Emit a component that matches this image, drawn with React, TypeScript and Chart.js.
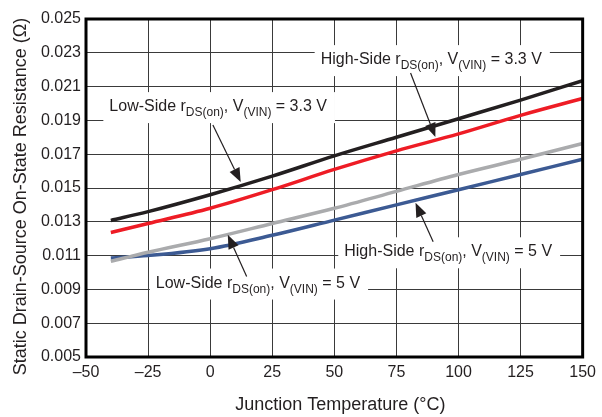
import React, { useEffect, useRef } from "react";
import { Chart, registerables } from "chart.js";

Chart.register(...registerables);

const temps = [-40, -25, 0, 25, 50, 75, 100, 125, 150];
const lowSide33 = [0.01308, 0.0136, 0.0146, 0.0157, 0.0169, 0.018, 0.0191, 0.0202, 0.02135];
const highSide33 = [0.01237, 0.0129, 0.0138, 0.0149, 0.0161, 0.0172, 0.0182, 0.0193, 0.0203];
const lowSide5 = [0.01066, 0.0112, 0.012, 0.0129, 0.0138, 0.0148, 0.0158, 0.0167, 0.01763];
const highSide5 = [0.01086, 0.011, 0.0114, 0.0122, 0.0131, 0.014, 0.0149, 0.0158, 0.0167];

const xTicks = [-50, -25, 0, 25, 50, 75, 100, 125, 150];
const yTicks = [0.005, 0.007, 0.009, 0.011, 0.013, 0.015, 0.017, 0.019, 0.021, 0.023, 0.025];

const FONT = "'Liberation Sans', Arial, sans-serif";
const INK = "#231f20";

type Part = [string, boolean];
const labelParts = (side: string, v: string): Part[] => [
  [side + " r", false],
  ["DS(on)", true],
  [", V", false],
  ["(VIN)", true],
  [" = " + v + " V", false],
];

// annotations: label left (°C), baseline (Ω), arrow tail & tip (°C, Ω)
const annotations = [
  { parts: labelParts("High-Side", "3.3"), lx: 44.5, ly: 0.02233, tail: [80.7, 0.0218], tip: [90.7, 0.01802] },
  { parts: labelParts("Low-Side", "3.3"), lx: -40.6, ly: 0.01955, tail: [1.1, 0.01873], tip: [12.3, 0.01535] },
  { parts: labelParts("High-Side", "5"), lx: 54, ly: 0.01096, tail: [89.8, 0.01182], tip: [82.7, 0.01412] },
  { parts: labelParts("Low-Side", "5"), lx: -21.9, ly: 0.00911, tail: [14.7, 0.00976], tip: [7.1, 0.01223] },
];

const makeData = (ys: number[]) => temps.map((t, i) => ({ x: t, y: ys[i] }));

export default function App() {
  const ref = useRef<HTMLCanvasElement>(null);
  useEffect(() => {
    document.body.style.margin = "0";
    const canvas = ref.current!;
    const annotPlugin = {
      id: "annot",
      afterDatasetsDraw(chart: any) {
        const ctx = chart.ctx as CanvasRenderingContext2D;
        const xs = chart.scales.x;
        const ys = chart.scales.y;
        const ca = chart.chartArea;
        ctx.save();
        // border
        ctx.strokeStyle = "#000";
        ctx.lineWidth = 3;
        ctx.strokeRect(ca.left, ca.top, ca.right - ca.left, ca.bottom - ca.top);
        for (const a of annotations) {
          const x0 = xs.getPixelForValue(a.lx);
          const base = ys.getPixelForValue(a.ly);
          let w = 0;
          for (const [t, sub] of a.parts) {
            ctx.font = (sub ? "12px " : "16px ") + FONT;
            w += ctx.measureText(t).width;
          }
          ctx.fillStyle = "#fff";
          ctx.fillRect(x0 - 6, base - 19, w + 14, 31);
          let x = x0;
          ctx.fillStyle = INK;
          ctx.textBaseline = "alphabetic";
          ctx.textAlign = "left";
          for (const [t, sub] of a.parts) {
            ctx.font = (sub ? "12px " : "16px ") + FONT;
            ctx.fillText(t, x, sub ? base + 5 : base);
            x += ctx.measureText(t).width;
          }
          // arrow
          const tx = xs.getPixelForValue(a.tail[0]);
          const ty = ys.getPixelForValue(a.tail[1]);
          const px = xs.getPixelForValue(a.tip[0]);
          const py = ys.getPixelForValue(a.tip[1]);
          const ang = Math.atan2(py - ty, px - tx);
          const hl = 14, hw = 5.5;
          const bx = px - hl * Math.cos(ang);
          const by = py - hl * Math.sin(ang);
          ctx.strokeStyle = INK;
          ctx.lineWidth = 1.2;
          ctx.beginPath();
          ctx.moveTo(tx, ty);
          ctx.lineTo(bx, by);
          ctx.stroke();
          ctx.beginPath();
          ctx.moveTo(px, py);
          ctx.lineTo(bx + hw * Math.sin(ang), by - hw * Math.cos(ang));
          ctx.lineTo(bx - hw * Math.sin(ang), by + hw * Math.cos(ang));
          ctx.closePath();
          ctx.fillStyle = INK;
          ctx.fill();
        }
        ctx.restore();
      },
      afterDraw(chart: any) {
        const ctx = chart.ctx as CanvasRenderingContext2D;
        const ca = chart.chartArea;
        ctx.save();
        ctx.fillStyle = INK;
        ctx.font = "18px " + FONT;
        ctx.textAlign = "center";
        ctx.textBaseline = "alphabetic";
        ctx.fillText("Junction Temperature (°C)", (ca.left + ca.right) / 2 + 6, 410);
        ctx.translate(25.5, 196.5);
        ctx.rotate(-Math.PI / 2);
        ctx.fillText("Static Drain-Source On-State Resistance (Ω)", 0, 0);
        ctx.restore();
      },
    };
    const chart = new Chart(canvas, {
      type: "line",
      data: {
        datasets: [
          { label: "Low-Side 3.3 V", data: makeData(lowSide33), borderColor: "#231f20", borderWidth: 3.5 },
          { label: "High-Side 3.3 V", data: makeData(highSide33), borderColor: "#ee1c25", borderWidth: 3.5 },
          { label: "Low-Side 5 V", data: makeData(lowSide5), borderColor: "#aaabad", borderWidth: 3.5 },
          { label: "High-Side 5 V", data: makeData(highSide5), borderColor: "#3c5a93", borderWidth: 3.5 },
        ].map((d) => ({ ...d, pointRadius: 0, fill: false, cubicInterpolationMode: "monotone" as const })),
      },
      options: {
        responsive: false,
        animation: false,
        layout: { padding: { top: 19, right: 13, left: 0, bottom: 0 } },
        plugins: { legend: { display: false }, tooltip: { enabled: false } },
        scales: {
          x: {
            type: "linear",
            min: -50,
            max: 150,
            afterBuildTicks: (s: any) => { s.ticks = xTicks.map((v) => ({ value: v })); },
            afterFit: (s: any) => { s.height = 60; },
            ticks: {
              padding: 6,
              color: INK,
              font: { size: 16, family: FONT },
              maxRotation: 0,
              callback: (v: any) => (v < 0 ? "\u2013" + Math.abs(v) : String(v)),
            },
            grid: { color: "#3a3a3a", lineWidth: 1, drawTicks: false },
            border: { display: false },
          },
          y: {
            type: "linear",
            min: 0.005,
            max: 0.025,
            afterBuildTicks: (s: any) => { s.ticks = yTicks.map((v) => ({ value: v })); },
            afterFit: (s: any) => { s.width = 86; },
            ticks: {
              padding: 5,
              color: INK,
              font: { size: 16, family: FONT },
              callback: (v: any) => Number(v).toFixed(3),
            },
            grid: { color: "#3a3a3a", lineWidth: 1, drawTicks: false },
            border: { display: false },
          },
        },
      },
      plugins: [annotPlugin],
    } as any);
    return () => chart.destroy();
  }, []);
  return <canvas ref={ref} width={602} height={417} style={{ display: "block", width: 602, height: 417 }} />;
}
